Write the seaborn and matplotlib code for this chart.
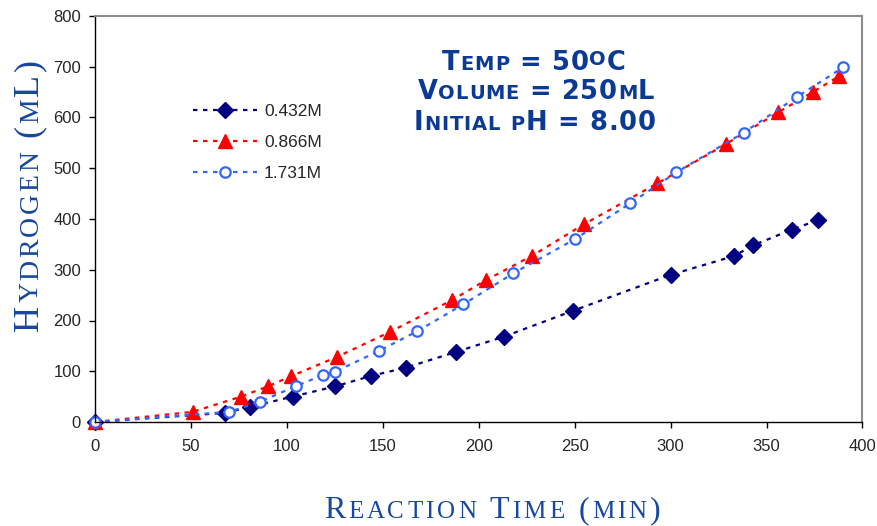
import numpy as np
import pandas as pd
import seaborn as sns
import matplotlib.pyplot as plt
from matplotlib.transforms import IdentityTransform

# Hydrogen volume (mL) vs reaction time (min), three NaBH4 concentrations
t_0432 = [0, 68, 81, 103, 125, 144, 162, 188, 213, 249, 300, 333, 343, 363, 377]
h_0432 = [0, 18, 30, 50, 70, 91, 107, 138, 168, 219, 290, 327, 348, 379, 398]

t_0866 = [0, 51, 76, 90, 102, 126, 154, 186, 204, 228, 255, 293, 329, 356, 374, 388]
h_0866 = [0, 20, 50, 70, 90, 128, 178, 240, 280, 328, 390, 470, 548, 610, 650, 682]

t_1731 = [0, 70, 86, 105, 119, 125, 148, 168, 192, 218, 250, 279, 303, 338, 366, 390]
h_1731 = [0, 20, 40, 71, 93, 99, 140, 179, 232, 293, 360, 431, 492, 570, 641, 699]

labels = ["0.432M", "0.866M", "1.731M"]
x_ticks = [0, 50, 100, 150, 200, 250, 300, 350, 400]
y_ticks = [0, 100, 200, 300, 400, 500, 600, 700, 800]

sns.set_style("ticks")
plt.rcParams["font.family"] = ["Liberation Sans", "DejaVu Sans"]

fig = plt.figure(figsize=(8.78, 5.26), dpi=100)
ax = fig.add_axes([95 / 878, 104 / 526, 767.5 / 878, 406 / 526])

dash = (0, (2, 2.5))
sns.lineplot(x=t_0432, y=h_0432, ax=ax, color="#000080", marker="D", markersize=8,
             mec="#000080", mew=1, linestyle=dash, lw=1.6, label=labels[0], estimator=None)
sns.lineplot(x=t_0866, y=h_0866, ax=ax, color="#FF0000", marker="^", markersize=9.5,
             mec="#FF0000", mew=1, linestyle=dash, lw=1.6, label=labels[1], estimator=None)
sns.lineplot(x=t_1731, y=h_1731, ax=ax, color="#3366FF", marker="o", markersize=7.5,
             mfc="white", mec="#3366FF", mew=1.6, linestyle=dash, lw=1.6, label=labels[2],
             estimator=None)
for line in ax.lines:
    line.set_clip_on(False)

ax.set_xlim(0, 400)
ax.set_ylim(0, 800)
ax.set_xticks(x_ticks)
ax.set_yticks(y_ticks)
ax.tick_params(axis="both", labelsize=12, length=4, width=1, color="black", direction="out")
ax.tick_params(axis="x", pad=8)
ax.tick_params(axis="y", pad=6)
ax.set_xlabel("")
ax.set_ylabel("")
for side in ["left", "bottom"]:
    ax.spines[side].set_color("black")
    ax.spines[side].set_linewidth(1)
for side in ["top", "right"]:
    ax.spines[side].set_visible(True)
    ax.spines[side].set_color("#8c8c8c")
    ax.spines[side].set_linewidth(1.5)

ax.legend(loc="upper left", bbox_to_anchor=(0.116, 0.805), frameon=False, fontsize=12.5,
          handlelength=3.7, handletextpad=0.4, labelspacing=0.92, borderpad=0, numpoints=1)


# small caps drawn piece by piece (pixel coords, origin bottom-left)
def caps_runs(text, split_chars):
    runs = []
    for ch in text:
        if ch == "°":
            kind, c = "deg", "O"
        elif ch.islower():
            kind, c = "small", ch.upper()
        else:
            kind, c = "big", ch
        if runs and runs[-1][0] == kind and kind != "deg" and not split_chars:
            runs[-1][1] += c
        else:
            runs.append([kind, c])
    return runs


def small_caps(x, y, text, big, small, rotation=0, track=0, **kw):
    r = fig.canvas.get_renderer()

    def width(s, size):
        t = fig.text(0, 0, "|" + s + "|", fontsize=size, **kw)
        a = t.get_window_extent(r).width
        t.remove()
        t = fig.text(0, 0, "||", fontsize=size, **kw)
        b = t.get_window_extent(r).width
        t.remove()
        return a - b

    runs = caps_runs(text, track != 0)
    sizes = [big if k == "big" else small for k, _ in runs]
    widths = [width(s, sz) + track for (k, s), sz in zip(runs, sizes)]
    pos = -(sum(widths) - track) / 2
    c, s_ = np.cos(np.deg2rad(rotation)), np.sin(np.deg2rad(rotation))
    for (k, s), sz, w in zip(runs, sizes, widths):
        rise = (big - small) * 0.73 * 100 / 72 if k == "deg" else 0
        fig.text(x + pos * c - rise * s_, y + pos * s_ + rise * c, s, fontsize=sz,
                 rotation=rotation, rotation_mode="anchor", ha="left", va="baseline",
                 transform=IdentityTransform(), **kw)
        pos += w


note_kw = dict(family=["DejaVu Sans"], fontweight="bold", color="#0b3a94")
small_caps(534, 526 - 70, "Temp = 50°C", 18.5, 14, track=0.8, **note_kw)
small_caps(536, 526 - 99, "Volume = 250mL", 18.5, 14, track=0.8, **note_kw)
small_caps(535, 526 - 130, "Initial pH = 8.00", 18.5, 14, track=0.8, **note_kw)

label_kw = dict(family=["Liberation Serif", "DejaVu Serif"], color="#17479e")
small_caps(492, 526 - 518, "Reaction Time (min)", 23, 18, track=3, **label_kw)
small_caps(38, 331, "Hydrogen (mL)", 26, 20, rotation=90, track=2.5, **label_kw)

fig.savefig("out.png", dpi=100)
